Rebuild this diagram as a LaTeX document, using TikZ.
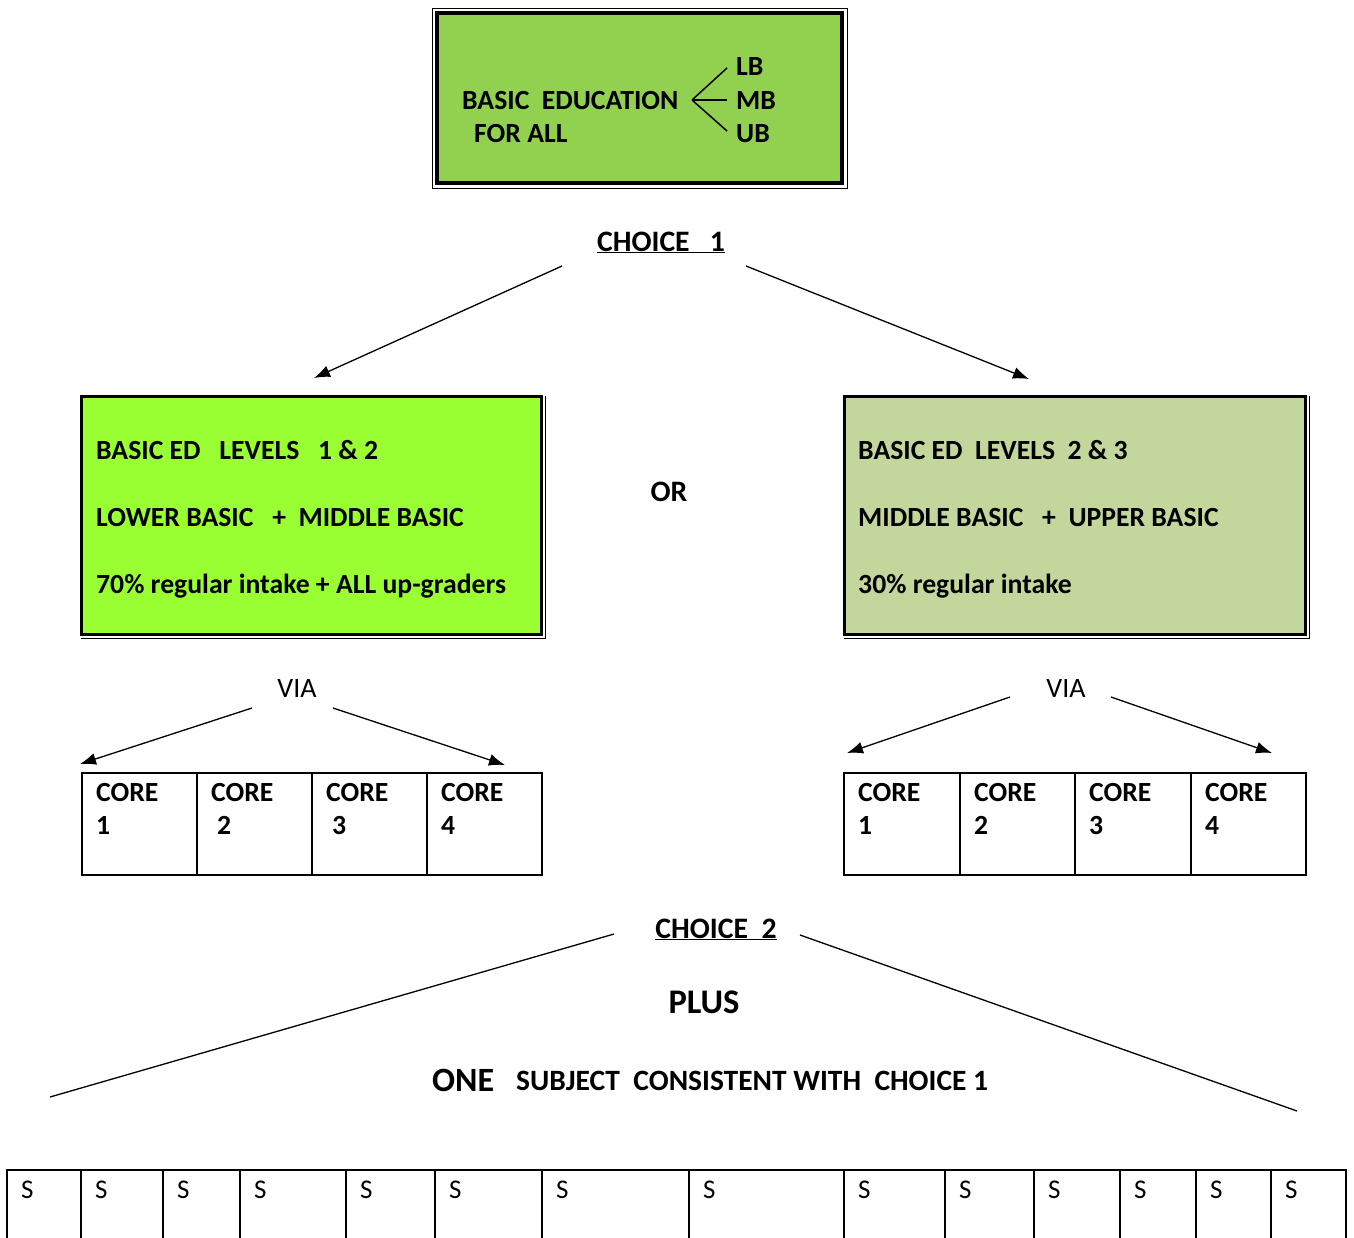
\documentclass[tikz,border=0pt]{standalone}
\usepackage{fontspec}
\setmainfont{Carlito}
\usetikzlibrary{arrows.meta}
\definecolor{topgreen}{HTML}{92D050}
\definecolor{limegreen}{HTML}{99FF33}
\definecolor{olivegreen}{HTML}{C3D69B}
\begin{document}
\begin{tikzpicture}[x=1pt,y=-1pt,
  lbl/.style={anchor=base west,inner sep=0pt,font=\fontsize{27.7}{32}\selectfont\bfseries},
  head/.style={anchor=base,inner sep=0pt,font=\fontsize{29.7}{34}\selectfont\bfseries},
  big/.style={anchor=base,inner sep=0pt,font=\fontsize{34.5}{38}\selectfont\bfseries},
  thin/.style={anchor=base,inner sep=0pt,font=\fontsize{28}{32}\selectfont},
  stxt/.style={anchor=base west,inner sep=0pt,font=\fontsize{27}{30}\selectfont},
  arr/.style={-{Latex[length=16pt,width=12pt]},line width=1.3pt},
  conn/.style={line width=1.3pt},
  cellline/.style={line width=1.6pt}
]
\useasboundingbox (0,0) rectangle (1354,1237);
\fill[white] (0,0) rectangle (1354,1237);

% ---------- top box
\draw[line width=1pt] (432,8) rectangle (847,188);
\filldraw[fill=topgreen,line width=4pt] (437,13) rectangle (842,183);
\node[lbl] (be) at (462,109) {BASIC\ \ EDUCATION};
\node[lbl] (fa) at (474,142) {FOR ALL};
\node[lbl] (lb) at (736,75) {LB};
\node[lbl] (mb) at (736,109) {MB};
\node[lbl] (ub) at (736,142) {UB};
\coordinate (br) at (692,100);
\draw[line width=1.5pt] (br) -- (727,68);
\draw[line width=1.5pt] (br) -- (727,100);
\draw[line width=1.5pt] (br) -- (727,131);

% ---------- choice 1
\node[head] (ch1) at (661,251) {\underline{CHOICE\ \ \ 1}};
\coordinate (a1s) at (562,266);
\coordinate (a1e) at (314,378);
\coordinate (a2s) at (746,266);
\coordinate (a2e) at (1029,379);
\draw[arr] (a1s) -- (a1e);
\draw[arr] (a2s) -- (a2e);

% ---------- left box
\filldraw[fill=limegreen,line width=3pt] (81,396) rectangle (541,634);
\draw[line width=1pt] (81,638) -- (545,638) -- (545,396);
\node[lbl] (l1) at (96,459) {BASIC ED\ \ \ LEVELS\ \ \ 1 \& 2};
\node[lbl] (l2) at (96,526) {LOWER BASIC\ \ \ +\ \ MIDDLE BASIC};
\node[lbl] (l3) at (96,593) {70\% regular intake + ALL up-graders};

\node[head] (or) at (669,501) {OR};

% ---------- right box
\filldraw[fill=olivegreen,line width=3pt] (844,396) rectangle (1305,634);
\draw[line width=1pt] (844,638) -- (1309,638) -- (1309,396);
\node[lbl] (r1) at (858,459) {BASIC ED\ \ LEVELS\ \ 2 \& 3};
\node[lbl] (r2) at (858,526) {MIDDLE BASIC\ \ \ +\ \ UPPER BASIC};
\node[lbl] (r3) at (858,593) {30\% regular intake};

% ---------- VIA left
\node[thin] (via1) at (297,697) {VIA};
\coordinate (v1a) at (252,708);
\coordinate (v1b) at (80,764);
\coordinate (v1c) at (333,708);
\coordinate (v1d) at (505,765);
\draw[arr] (v1a) -- (v1b);
\draw[arr] (v1c) -- (v1d);

% ---------- VIA right
\node[thin] (via2) at (1066,697) {VIA};
\coordinate (v2a) at (1010,697);
\coordinate (v2b) at (847,753);
\coordinate (v2c) at (1111,697);
\coordinate (v2d) at (1272,753);
\draw[arr] (v2a) -- (v2b);
\draw[arr] (v2c) -- (v2d);

% ---------- core tables
\draw[cellline] (82,773) rectangle (542,875);
\foreach \x in {197,312,427} \draw[cellline] (\x,773) -- (\x,875);
\node[lbl] (lc1) at (96,801) {CORE};
\node[lbl] (lc1n) at (96,834) {1};
\node[lbl] (lc2) at (211,801) {CORE};
\node[lbl] (lc2n) at (217,834) {2};
\node[lbl] (lc3) at (326,801) {CORE};
\node[lbl] (lc3n) at (332,834) {3};
\node[lbl] (lc4) at (441,801) {CORE};
\node[lbl] (lc4n) at (441,834) {4};

\draw[cellline] (844,773) rectangle (1306,875);
\foreach \x in {960,1075,1191} \draw[cellline] (\x,773) -- (\x,875);
\node[lbl] (rc1) at (858,801) {CORE};
\node[lbl] (rc1n) at (858,834) {1};
\node[lbl] (rc2) at (974,801) {CORE};
\node[lbl] (rc2n) at (974,834) {2};
\node[lbl] (rc3) at (1089,801) {CORE};
\node[lbl] (rc3n) at (1089,834) {3};
\node[lbl] (rc4) at (1205,801) {CORE};
\node[lbl] (rc4n) at (1205,834) {4};

% ---------- choice 2
\node[head] (ch2) at (716,938) {\underline{CHOICE\ \ 2}};
\coordinate (c2a) at (614,934);
\coordinate (c2b) at (50,1097);
\coordinate (c2c) at (800,935);
\coordinate (c2d) at (1297,1111);
\draw[conn] (c2a) -- (c2b);
\draw[conn] (c2c) -- (c2d);
\node[big] (plus) at (704,1013) {PLUS};
\node[anchor=base west,inner sep=0pt,font=\fontsize{34}{38}\selectfont\bfseries] (one) at (432,1091) {ONE};
\node[anchor=base west,inner sep=0pt,font=\fontsize{29.5}{34}\selectfont\bfseries] (subj) at (516,1090) {SUBJECT\ \ CONSISTENT WITH\ \ CHOICE 1};

% ---------- subject row
\draw[cellline] (7,1245) -- (7,1170) -- (1346,1170) -- (1346,1245);
\foreach \x in {81,163,240,346,435,542,689,844,945,1034,1120,1196,1271}
  \draw[cellline] (\x,1170) -- (\x,1245);
\foreach \x [count=\i] in {7,81,163,240,346,435,542,689,844,945,1034,1120,1196,1271}
  \node[stxt] (s\i) at (\x+14,1198) {S};
\end{tikzpicture}
\end{document}
